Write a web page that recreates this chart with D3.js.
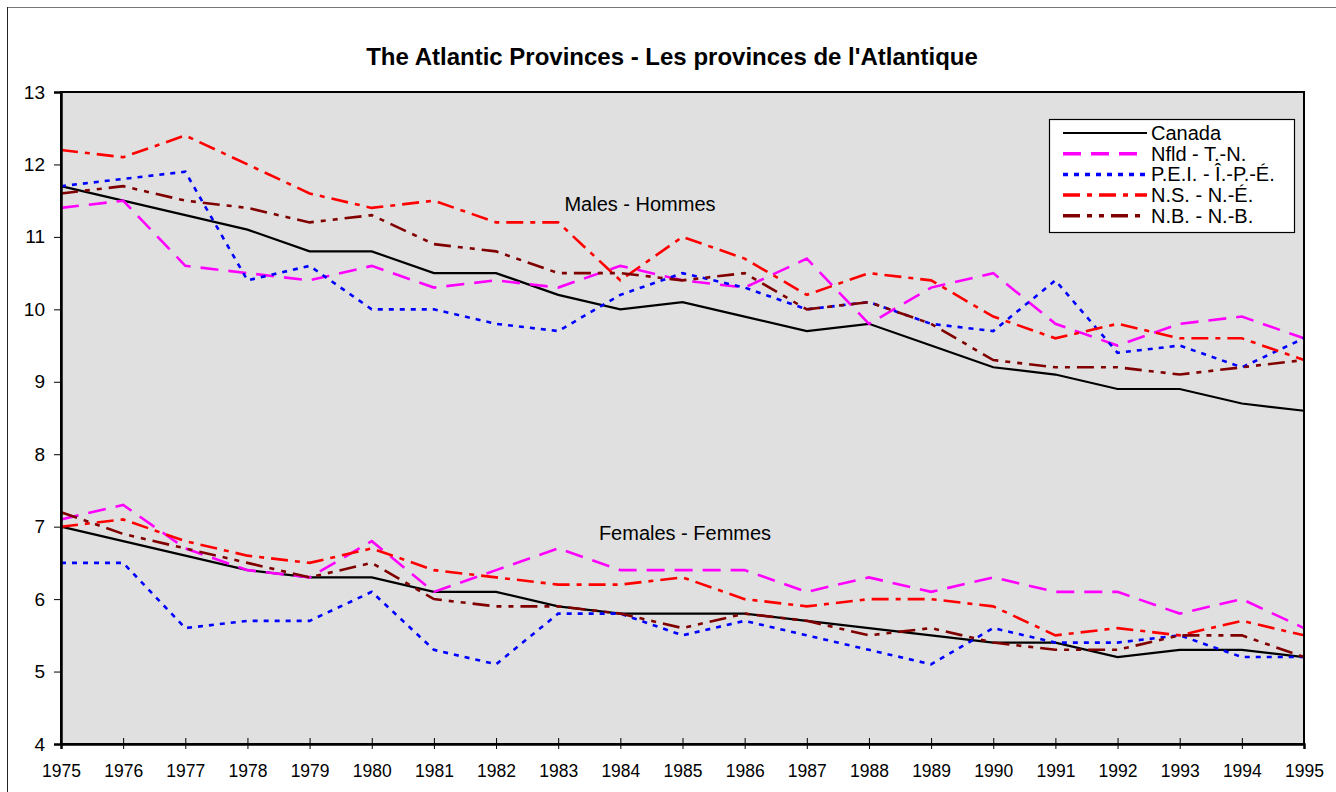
<!DOCTYPE html>
<html><head><meta charset="utf-8">
<script src="https://cdn.jsdelivr.net/npm/d3@7"></script>
<style>
html,body{margin:0;padding:0;background:#fff;}
svg{display:block;font-family:"Liberation Sans",Arial,sans-serif;}
</style></head>
<body>
<svg id="chart" width="1336" height="792"></svg>
<script>
const years = [1975,1976,1977,1978,1979,1980,1981,1982,1983,1984,1985,1986,1987,1988,1989,1990,1991,1992,1993,1994,1995];
const yTicks = [4,5,6,7,8,9,10,11,12,13];
const seriesNames = ["Canada","Nfld - T.-N.","P.E.I. - Î.-P.-É.","N.S. - N.-É.","N.B. - N.-B."];

const canadaMales = [11.7,11.5,11.3,11.1,10.8,10.8,10.5,10.5,10.2,10.0,10.1,9.9,9.7,9.8,9.5,9.2,9.1,8.9,8.9,8.7,8.6];
const nfldMales   = [11.4,11.5,10.6,10.5,10.4,10.6,10.3,10.4,10.3,10.6,10.4,10.3,10.7,9.8,10.3,10.5,9.8,9.5,9.8,9.9,9.6];
const peiMales    = [11.7,11.8,11.9,10.4,10.6,10.0,10.0,9.8,9.7,10.2,10.5,10.3,10.0,10.1,9.8,9.7,10.4,9.4,9.5,9.2,9.6];
const nsMales     = [12.2,12.1,12.4,12.0,11.6,11.4,11.5,11.2,11.2,10.4,11.0,10.7,10.2,10.5,10.4,9.9,9.6,9.8,9.6,9.6,9.3];
const nbMales     = [11.6,11.7,11.5,11.4,11.2,11.3,10.9,10.8,10.5,10.5,10.4,10.5,10.0,10.1,9.8,9.3,9.2,9.2,9.1,9.2,9.3];

const canadaFemales = [7.0,6.8,6.6,6.4,6.3,6.3,6.1,6.1,5.9,5.8,5.8,5.8,5.7,5.6,5.5,5.4,5.4,5.2,5.3,5.3,5.2];
const nfldFemales   = [7.1,7.3,6.7,6.4,6.3,6.8,6.1,6.4,6.7,6.4,6.4,6.4,6.1,6.3,6.1,6.3,6.1,6.1,5.8,6.0,5.6];
const peiFemales    = [6.5,6.5,5.6,5.7,5.7,6.1,5.3,5.1,5.8,5.8,5.5,5.7,5.5,5.3,5.1,5.6,5.4,5.4,5.5,5.2,5.2];
const nsFemales     = [7.0,7.1,6.8,6.6,6.5,6.7,6.4,6.3,6.2,6.2,6.3,6.0,5.9,6.0,6.0,5.9,5.5,5.6,5.5,5.7,5.5];
const nbFemales     = [7.2,6.9,6.7,6.5,6.3,6.5,6.0,5.9,5.9,5.8,5.6,5.8,5.7,5.5,5.6,5.4,5.3,5.3,5.5,5.5,5.2];

const colors = ["#000000","#FF00FF","#0000FF","#FF0000","#800000"];
const dashes = [null,"18,10","5,6","17,7,5,7","17,7,5,7,5,7"];
const widths = [2.2,2.6,2.6,2.6,2.6];

const maleData = [canadaMales,nfldMales,peiMales,nsMales,nbMales];
const femaleData = [canadaFemales,nfldFemales,peiFemales,nsFemales,nbFemales];

const svg = d3.select("#chart");
const L = 61, R = 1304, T = 92, B = 744;

// outer frame
svg.append("line").attr("x1",7).attr("y1",7.5).attr("x2",1336).attr("y2",7.5).attr("stroke","#777").attr("stroke-width",1);
svg.append("line").attr("x1",7.5).attr("y1",7).attr("x2",7.5).attr("y2",792).attr("stroke","#222").attr("stroke-width",1);

const x = d3.scaleLinear().domain([1975,1995]).range([L,R]);
const y = d3.scaleLinear().domain([4,13]).range([B,T]);

svg.append("rect").attr("x",L).attr("y",T).attr("width",R-L).attr("height",B-T).attr("fill","#E0E0E0");

// title
svg.append("text").attr("x",672).attr("y",65).attr("text-anchor","middle")
  .attr("font-size",24).attr("font-weight","bold").text("The Atlantic Provinces - Les provinces de l'Atlantique");

const line = d3.line().x((d,i)=>x(years[i])).y(d=>y(d));

function drawGroup(data){
  data.forEach((s,k)=>{
    svg.append("path").datum(s).attr("d",line).attr("fill","none")
      .attr("stroke",colors[k]).attr("stroke-width",widths[k])
      .attr("stroke-dasharray",dashes[k]).attr("stroke-linejoin","miter");
  });
}
drawGroup(maleData);
drawGroup(femaleData);

// plot border
svg.append("rect").attr("x",L).attr("y",T).attr("width",R-L).attr("height",B-T)
  .attr("fill","none").attr("stroke","#000").attr("stroke-width",2);

// y axis
const yAxis = d3.axisLeft(y).tickValues(yTicks).tickSize(7).tickPadding(9).tickFormat(d3.format("d"));
const ga = svg.append("g").attr("transform",`translate(${L},0)`).call(yAxis);
ga.attr("font-family","Liberation Sans, Arial, sans-serif");
ga.select(".domain").attr("stroke","#000").attr("stroke-width",2.5);
ga.selectAll(".tick line").attr("stroke","#000").attr("stroke-width",1);
ga.selectAll("text").attr("font-size",19).attr("fill","#000");

// x axis
const xAxis = d3.axisBottom(x).tickValues(years).tickSize(5).tickPadding(16).tickFormat(d3.format("d"));
const gx = svg.append("g").attr("transform",`translate(0,${B})`).call(xAxis);
gx.attr("font-family","Liberation Sans, Arial, sans-serif");
gx.select(".domain").attr("stroke","#000").attr("stroke-width",2.5);
gx.selectAll(".tick line").attr("stroke","#000").attr("stroke-width",1).attr("y1",-6).attr("y2",5);
gx.selectAll("text").attr("font-size",17.5).attr("fill","#000");

// annotations
svg.append("text").attr("x",640).attr("y",211).attr("text-anchor","middle").attr("font-size",20).text("Males - Hommes");
svg.append("text").attr("x",685).attr("y",540).attr("text-anchor","middle").attr("font-size",20).text("Females - Femmes");

// legend
const lg = svg.append("g");
lg.append("rect").attr("x",1049.5).attr("y",119.5).attr("width",245).attr("height",113)
  .attr("fill","#fff").attr("stroke","#000").attr("stroke-width",1.2);
seriesNames.forEach((n,k)=>{
  const cy = 133 + k*20.7;
  lg.append("line").attr("x1",1063).attr("x2",1147).attr("y1",cy).attr("y2",cy)
    .attr("stroke",colors[k]).attr("stroke-width",k===0?2.2:3.5).attr("stroke-dasharray",dashes[k]);
  lg.append("text").attr("x",1151).attr("y",cy+7).attr("font-size",20).text(n);
});
</script>
</body></html>
